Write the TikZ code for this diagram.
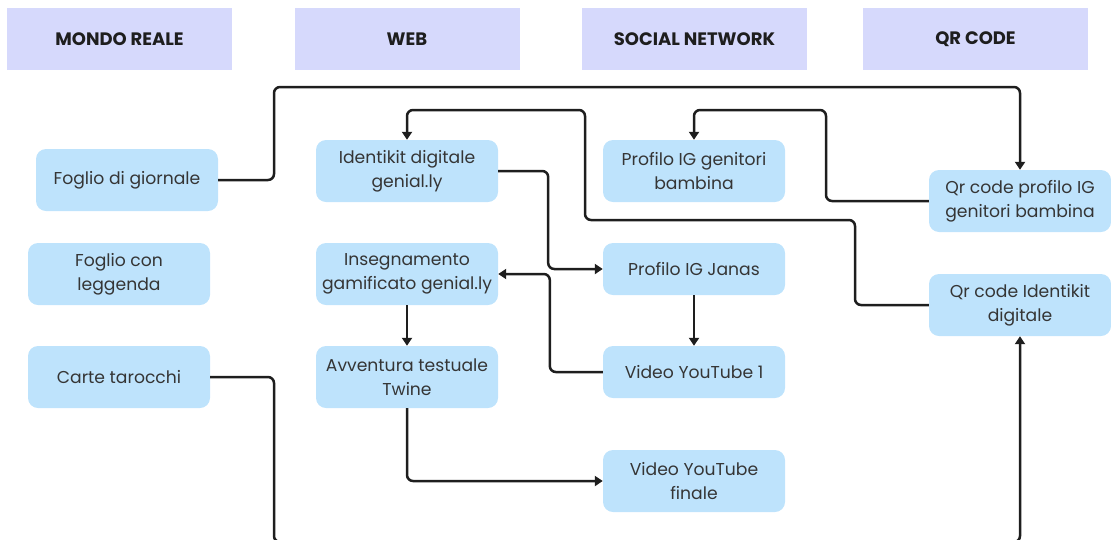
\documentclass[tikz,border=0pt]{standalone}
\usepackage{fontspec}
\setmainfont{Poppins}
\usetikzlibrary{arrows.meta,positioning,calc}
\definecolor{headfill}{HTML}{D6D9FC}
\definecolor{boxfill}{HTML}{BEE3FC}
\definecolor{ink}{HTML}{1E1E1E}

\begin{document}
\begin{tikzpicture}[x=1pt, y=-1pt,
  head/.style={rectangle, fill=headfill, minimum width=225pt, minimum height=62pt, inner sep=0pt, text=ink, font=\fontsize{18}{22}\selectfont\bfseries},
  b/.style={rectangle, rounded corners=10pt, fill=boxfill, minimum width=182pt, minimum height=62pt, inner sep=2pt, align=center, text=ink!90, font=\fontsize{17.2}{24}\selectfont},
  bs/.style={b, minimum height=52pt},
  ln/.style={line width=2.5pt, rounded corners=6pt, ink},
  arr/.style={ln, -{Triangle[length=8pt,width=10pt]}}
]
  \useasboundingbox (0,0) rectangle (1111,539);
  % column headers
  \foreach \n/\x/\t in {h1/119.5/MONDO REALE, h2/407/WEB, h3/694.5/SOCIAL NETWORK, h4/975.5/QR CODE}{
    \node[head] (\n) at (\x, 39) {\t};}
  % mondo reale
  \node[b] (gio) at (127, 180) {Foglio di giornale};
  \node[b] (leg) at (119, 274) {Foglio con\\leggenda};
  \node[b] (tar) at (119, 377) {Carte tarocchi};
  % web
  \node[b] (idk) at (407, 171) {Identikit digitale\\genial.ly};
  \node[b] (ins) at (407, 274) {Insegnamento\\gamificato genial.ly};
  \node[b] (twn) at (407, 377) {Avventura testuale\\Twine};
  % social network
  \node[b] (pig) at (694, 171) {Profilo IG genitori\\bambina};
  \node[bs] (jan) at (694, 269) {Profilo IG Janas};
  \node[bs] (yt1) at (694, 372) {Video YouTube 1};
  \node[b] (ytf) at (694, 481) {Video YouTube\\finale};
  % qr code
  \node[b] (qrp) at (1020, 201) {Qr code profilo IG\\genitori bambina};
  \node[b] (qri) at (1020, 305) {Qr code Identikit\\digitale};

  % connectors
  \draw[arr] (gio.east) -| (274, 87) -| (qrp.north);
  \draw[arr] (qri.west) -| (855, 220) -| (585, 110) -| (idk.north);
  \draw[arr] (qrp.west) -| (826, 110) -| (pig.north);
  \draw[arr] (idk.east) -- ++(50,0) |- (jan.west);
  \draw[arr] (yt1.west) -- ++(-53,0) |- (ins.east);
  \draw[arr] (jan.south) -- (yt1.north);
  \draw[arr] (ins.south) -- (twn.north);
  \draw[arr] (twn.south) |- (ytf.west);
  \draw[arr] (tar.east) -| (274, 542) -| (qri.south);
\end{tikzpicture}
\end{document}
